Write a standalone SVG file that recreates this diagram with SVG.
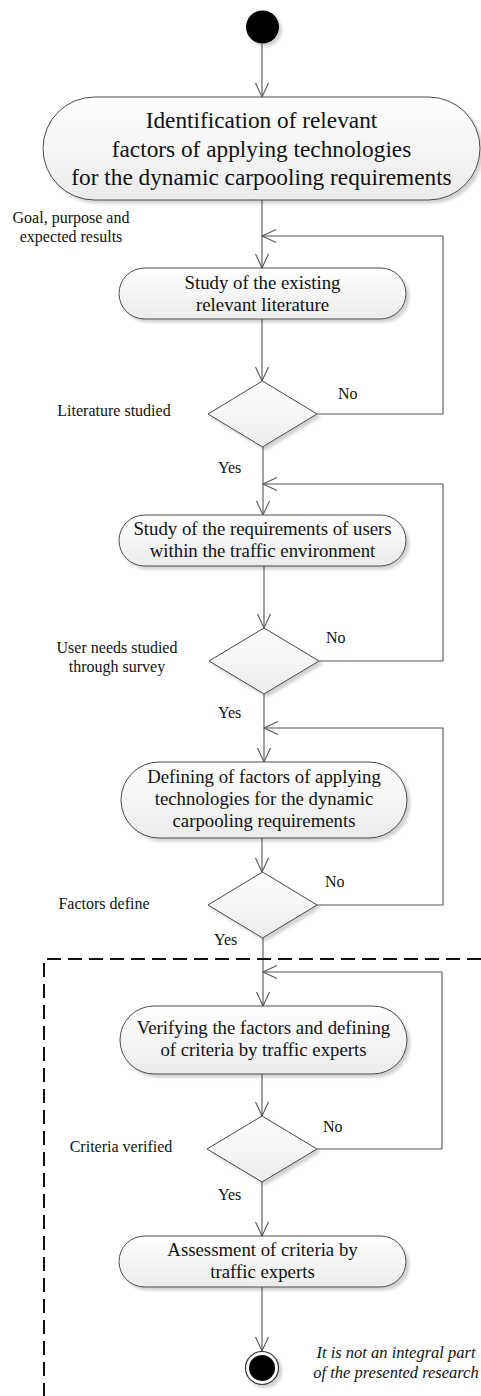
<svg xmlns="http://www.w3.org/2000/svg" width="481" height="1396" viewBox="0 0 481 1396">
<style>
.nd{fill:url(#g);stroke:#4a4a4a;stroke-width:1;filter:url(#sh)}
.dm{fill:url(#g);stroke:#4a4a4a;stroke-width:1;filter:url(#sh)}
.cn{fill:none;stroke:#555;stroke-width:1.1}
.ar{marker-end:url(#arr)}
.t{font-family:"Liberation Serif","Times New Roman",serif;fill:#111;text-anchor:middle}
.big{font-size:23.3px}
.nt{font-size:18.8px}
.lb{font-size:16px}
.ls{font-family:"Liberation Serif","Times New Roman",serif;fill:#111;font-size:16px}
.it{font-style:italic;font-size:16.5px}
.dash{fill:none;stroke:#111;stroke-width:2;stroke-dasharray:14 7}
</style>
<defs>
<linearGradient id="g" x1="0" y1="0" x2="0" y2="1">
<stop offset="0" stop-color="#ffffff"/>
<stop offset="1" stop-color="#ebebeb"/>
</linearGradient>
<filter id="sh" x="-10%" y="-10%" width="130%" height="140%">
<feDropShadow dx="3" dy="3" stdDeviation="1.5" flood-color="#000" flood-opacity="0.18"/>
</filter>
<marker id="arr" markerUnits="userSpaceOnUse" markerWidth="16" markerHeight="14" refX="14" refY="6.5" orient="auto" overflow="visible">
<path d="M0,0 L14,6.5 L0,13" fill="none" stroke="#555" stroke-width="1.1"/>
</marker>
</defs>

<g id="connectors">
<path class="cn ar" d="M262,44 V97"/>
<path class="cn ar" d="M262,200 V268"/>
<path class="cn ar" d="M317,414 H443 V236 H262"/>
<path class="cn ar" d="M262,319 V381"/>
<path class="cn ar" d="M263,447 V515"/>
<path class="cn ar" d="M319,661 H443 V484 H263"/>
<path class="cn ar" d="M264,566 V628"/>
<path class="cn ar" d="M264,694 V762"/>
<path class="cn ar" d="M317,905 H443 V728 H264"/>
<path class="cn ar" d="M262,838 V872"/>
<path class="cn ar" d="M263,938 V1006"/>
<path class="cn ar" d="M317,1149 H442 V972 H263"/>
<path class="cn ar" d="M262,1074 V1116"/>
<path class="cn ar" d="M262,1182 V1236"/>
<path class="cn ar" d="M262,1287 V1351"/>
</g>

<g id="start">
<circle cx="262.5" cy="27" r="16.5" fill="#000" filter="url(#sh)"/>
</g>

<g id="main">
<rect class="nd" x="43" y="97" width="437" height="103" rx="51.5" ry="51.5"/>
<text class="t big" x="261.5" y="128">Identification of relevant</text>
<text class="t big" x="261.5" y="157">factors of applying technologies</text>
<text class="t big" x="261.5" y="185">for the dynamic carpooling requirements</text>
</g>

<g id="lbl-goal">
<text class="t lb" x="71" y="223">Goal, purpose and</text>
<text class="t lb" x="71" y="242">expected results</text>
</g>

<g id="node1">
<rect class="nd" x="119" y="268" width="287" height="51" rx="25.5" ry="25.5"/>
<text class="t nt" x="262.5" y="289">Study of the existing</text>
<text class="t nt" x="262.5" y="311">relevant literature</text>
</g>

<g id="dec1">
<polygon class="dm" points="262.5,381 317,414 262.5,447 208,414"/>
<text class="t lb" x="114" y="416">Literature studied</text>
<text class="ls" x="338" y="399">No</text>
<text class="ls" x="218" y="473">Yes</text>
</g>

<g id="node2">
<rect class="nd" x="119" y="515" width="287" height="51" rx="25.5" ry="25.5"/>
<text class="t nt" x="262.5" y="535">Study of the requirements of users</text>
<text class="t nt" x="262.5" y="557">within the traffic environment</text>
</g>

<g id="dec2">
<polygon class="dm" points="264,628 319,661 264,694 209,661"/>
<text class="t lb" x="117" y="653">User needs studied</text>
<text class="t lb" x="117" y="672">through survey</text>
<text class="ls" x="326" y="643">No</text>
<text class="ls" x="218" y="718">Yes</text>
</g>

<g id="node3">
<rect class="nd" x="121" y="762" width="286" height="76" rx="38" ry="38"/>
<text class="t nt" x="264" y="783">Defining of factors of applying</text>
<text class="t nt" x="264" y="805">technologies for the dynamic</text>
<text class="t nt" x="264" y="827">carpooling requirements</text>
</g>

<g id="dec3">
<polygon class="dm" points="262.5,872 317,905 262.5,938 208,905"/>
<text class="t lb" x="104" y="909">Factors define</text>
<text class="ls" x="325" y="887">No</text>
<text class="ls" x="214" y="945">Yes</text>
</g>

<g id="boundary">
<path class="dash" d="M481,959 H44 V1396"/>
</g>

<g id="node4">
<rect class="nd" x="120" y="1006" width="287" height="68" rx="34" ry="34"/>
<text class="t nt" x="263.5" y="1034">Verifying the factors and defining</text>
<text class="t nt" x="263.5" y="1056">of criteria by traffic experts</text>
</g>

<g id="dec4">
<polygon class="dm" points="262,1116 317,1149 262,1182 207,1149"/>
<text class="t lb" x="121" y="1152">Criteria verified</text>
<text class="ls" x="323" y="1132">No</text>
<text class="ls" x="218" y="1200">Yes</text>
</g>

<g id="node5">
<rect class="nd" x="119" y="1236" width="287" height="51" rx="25.5" ry="25.5"/>
<text class="t nt" x="262.5" y="1256">Assessment of criteria by</text>
<text class="t nt" x="262.5" y="1278">traffic experts</text>
</g>

<g id="end">
<circle cx="262" cy="1368" r="16.5" fill="#fff" stroke="#333" stroke-width="1.2" filter="url(#sh)"/>
<circle cx="262" cy="1368" r="13" fill="#000"/>
</g>

<g id="note">
<text class="t it" x="396" y="1358">It is not an integral part</text>
<text class="t it" x="396" y="1378">of the presented research</text>
</g>
</svg>
